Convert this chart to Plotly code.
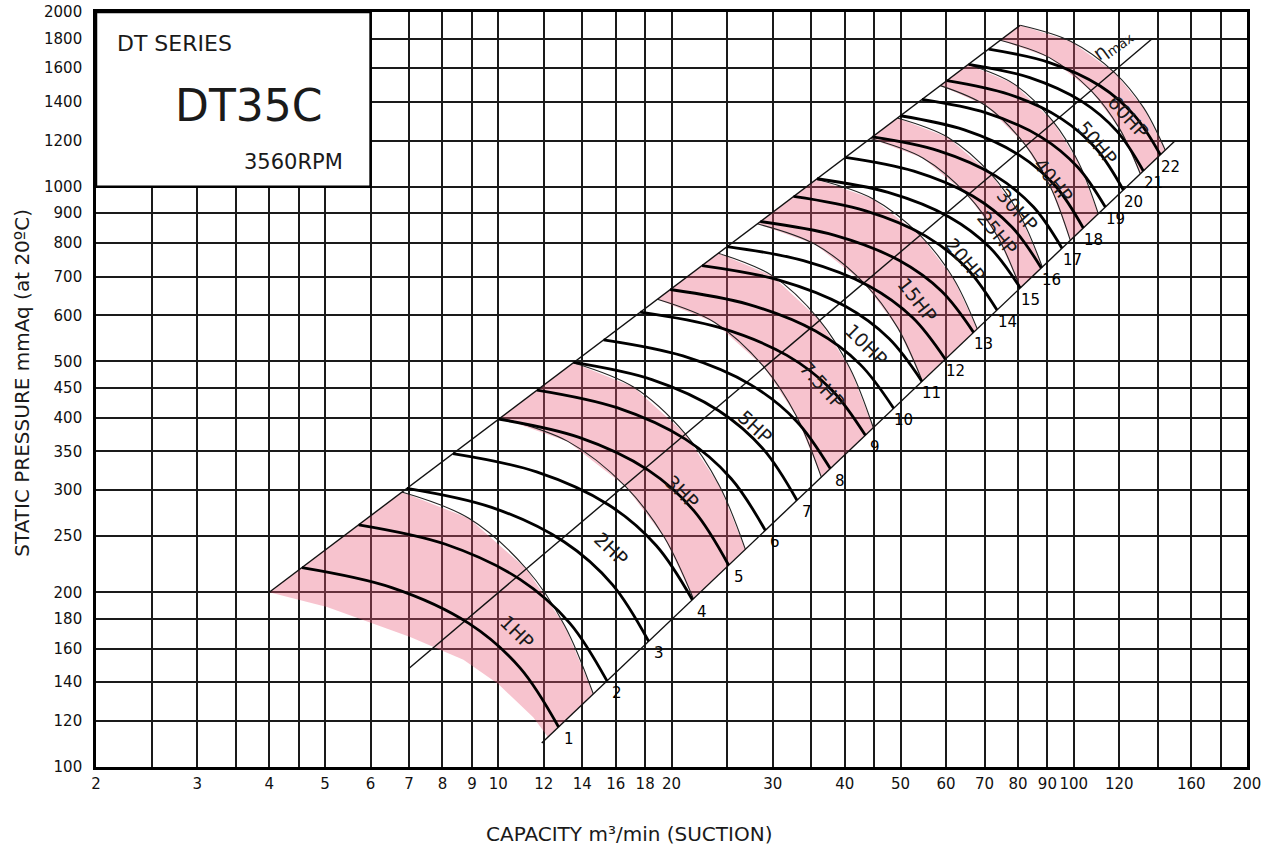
import numpy as np
import plotly.graph_objects as go

# ---------------- axes / grid ----------------
x_grid = [2, 2.5, 3, 3.5, 4, 4.5, 5, 6, 7, 8, 9, 10, 12, 14, 16, 18, 20, 25, 30, 35,
          40, 45, 50, 60, 70, 80, 90, 100, 120, 140, 160, 180, 200]
x_labels = ["2", "", "3", "", "4", "", "5", "6", "7", "8", "9", "10", "12", "14", "16",
            "18", "20", "", "30", "", "40", "", "50", "60", "70", "80", "90", "100",
            "120", "", "160", "", "200"]
y_grid = [100, 120, 140, 160, 180, 200, 250, 300, 350, 400, 450, 500, 600, 700, 800,
          900, 1000, 1200, 1400, 1600, 1800, 2000]
y_labels = [str(v) for v in y_grid]

# ---------------- fan curves 1..22 (capacity m3/min, static pressure mmAq) ----------------
curve_ids = list(range(1, 23))
curve_q = [
    [4.56, 6.53, 8.89, 10.91, 12.73],
    [5.72, 8.10, 10.91, 13.31, 15.45],
    [6.94, 9.74, 13.01, 15.79, 18.25],
    [8.34, 11.66, 15.54, 18.83, 21.74],
    [10.01, 13.82, 18.22, 21.90, 25.14],
    [11.68, 16.08, 21.14, 25.38, 29.11],
    [13.52, 18.49, 24.17, 28.90, 33.04],
    [15.24, 20.94, 27.48, 32.95, 37.75],
    [17.65, 24.19, 31.69, 37.94, 43.44],
    [19.90, 27.21, 35.58, 42.54, 48.64],
    [22.60, 30.75, 40.04, 47.75, 54.48],
    [24.98, 33.90, 44.06, 52.47, 59.82],
    [28.53, 38.46, 49.69, 58.94, 66.97],
    [32.59, 43.35, 55.34, 65.12, 73.56],
    [35.80, 47.59, 60.74, 71.48, 80.74],
    [40.09, 52.75, 66.73, 78.08, 87.82],
    [44.67, 58.26, 73.15, 85.14, 95.41],
    [49.97, 64.55, 80.41, 93.09, 103.88],
    [54.48, 70.45, 87.78, 101.63, 113.46],
    [60.23, 77.08, 95.25, 109.69, 121.94],
    [65.65, 83.86, 103.42, 118.94, 132.10],
    [71.13, 90.46, 111.16, 127.53, 141.40],
]
curve_p = [
    [220.6, 203.8, 176.8, 148.2, 117.2],
    [261.4, 242.0, 210.5, 177.0, 140.7],
    [302.2, 280.2, 244.4, 206.2, 164.7],
    [346.7, 322.5, 283.1, 240.6, 194.2],
    [397.7, 369.8, 324.7, 276.0, 222.7],
    [446.3, 416.1, 367.2, 314.2, 255.7],
    [497.8, 465.0, 411.1, 352.7, 288.2],
    [544.6, 510.9, 455.5, 394.8, 326.8],
    [608.1, 572.1, 512.5, 446.8, 372.9],
    [665.0, 627.0, 563.9, 494.1, 415.0],
    [731.3, 690.5, 622.7, 547.4, 461.8],
    [788.5, 745.6, 674.5, 595.0, 504.3],
    [870.9, 824.4, 746.6, 660.3, 561.0],
    [962.1, 909.5, 821.8, 724.3, 612.9],
    [1032.0, 977.7, 886.9, 785.7, 669.2],
    [1123.5, 1063.5, 963.5, 852.1, 724.4],
    [1218.3, 1152.9, 1043.8, 922.4, 783.3],
    [1325.1, 1253.1, 1133.6, 1000.7, 848.7],
    [1413.8, 1340.3, 1217.5, 1080.1, 922.3],
    [1523.4, 1443.0, 1309.1, 1159.1, 987.2],
    [1625.4, 1541.6, 1401.4, 1245.1, 1064.5],
    [1725.8, 1638.1, 1491.0, 1325.4, 1135.0],
]

# ---------------- horsepower limit lines (thin arcs) ----------------
hp_line_q = [
    [6.80, 8.89, 11.19, 13.04, 14.63],
    [10.08, 13.21, 16.65, 19.43, 21.83],
    [13.50, 17.18, 21.12, 24.24, 26.88],
    [18.90, 23.78, 28.95, 33.01, 36.42],
    [24.12, 29.97, 36.09, 40.86, 44.85],
    [28.19, 35.52, 43.30, 49.42, 54.55],
    [35.70, 44.73, 54.26, 61.73, 67.97],
    [44.32, 54.67, 65.44, 73.81, 80.74],
    [49.37, 60.48, 71.98, 80.82, 88.18],
    [58.63, 70.35, 82.23, 91.23, 98.63],
    [65.57, 78.68, 91.96, 102.04, 110.32],
    [74.53, 90.70, 107.27, 120.00, 130.50],
    [80.74, 98.92, 117.74, 132.22, 144.20],
]
hp_line_p = [
    [297.7, 268.3, 219.6, 175.4, 133.6],
    [399.7, 364.0, 304.2, 248.8, 194.9],
    [497.4, 451.6, 375.3, 305.0, 237.2],
    [639.7, 583.6, 489.2, 401.5, 315.9],
    [767.9, 701.9, 590.3, 486.3, 384.3],
    [863.1, 795.8, 680.8, 571.6, 462.4],
    [1029.9, 953.5, 822.1, 696.3, 568.9],
    [1210.7, 1121.0, 966.5, 818.8, 669.2],
    [1313.2, 1215.9, 1048.9, 889.0, 727.1],
    [1493.4, 1378.9, 1182.6, 995.8, 808.1],
    [1623.8, 1503.8, 1296.8, 1098.5, 898.3],
    [1787.5, 1668.9, 1462.0, 1260.2, 1052.4],
    [1897.5, 1779.6, 1572.7, 1368.5, 1156.5],
]
# shaded bands: pairs of hp-line indices
pink_bands = [(1, 2), (3, 4), (5, 6), (7, 8), (9, 10), (11, 12)]
# lower-left edge of the 1HP shading
shade1_q = [12.2, 11.5, 10.0, 8.7, 7.03, 5.04]
shade1_p = [112.6, 121.8, 139.0, 153.0, 167.5, 188.7]

# ---------------- straight limit lines ----------------
upper_q = [4, 80.74]
upper_p = [200, 1897.5]
lower_q = [11.9, 150]
lower_p = [110, 1200]
eta_q = [7, 137]
eta_p = [148, 1800]

# ---------------- labels ----------------
hp_text = ["1HP", "2HP", "3HP", "5HP", "7.5HP", "10HP", "15HP", "20HP", "25HP", "30HP",
           "40HP", "50HP", "60HP"]
hp_q = [10.79, 15.72, 20.88, 27.96, 36.56, 43.62, 53.47, 64.8, 73.6, 79.8, 92.1, 109.9, 124.4]
hp_p = [170.7, 237.2, 297.5, 384.9, 454.7, 533.0, 637.0, 746.8, 831.0, 910.5, 1025.0, 1188.0, 1317.0]
hp_angle = [45, 44, 45, 43, 48, 45, 52, 50, 50, 48, 52, 50, 48]
eta_label_q = 116.7
eta_label_p = 1759

title_box_q = [2, 6]
title_box_p = [1000, 2000]

PINK = "rgba(232,90,120,0.36)"
FONT = "DejaVu Sans"
TXT = "#1a1a1a"

fig = go.Figure()

# pink shading: 1HP region
q1 = [upper_q[0]] + hp_line_q[0] + shade1_q + [upper_q[0]]
p1 = [upper_p[0]] + hp_line_p[0] + shade1_p + [upper_p[0]]
fig.add_trace(go.Scatter(x=q1, y=p1, mode="lines", fill="toself", fillcolor=PINK,
                         line=dict(width=0, color=PINK), hoverinfo="skip", showlegend=False))
for a, b in pink_bands:
    qq = hp_line_q[a] + hp_line_q[b][::-1] + [hp_line_q[a][0]]
    pp = hp_line_p[a] + hp_line_p[b][::-1] + [hp_line_p[a][0]]
    fig.add_trace(go.Scatter(x=qq, y=pp, mode="lines", fill="toself", fillcolor=PINK,
                             line=dict(width=0, color=PINK), hoverinfo="skip", showlegend=False))

# title box (white, covers grid)
fig.add_trace(go.Scatter(
    x=[title_box_q[0], title_box_q[1], title_box_q[1], title_box_q[0], title_box_q[0]],
    y=[title_box_p[0], title_box_p[0], title_box_p[1], title_box_p[1], title_box_p[0]],
    mode="lines", fill="toself", fillcolor="white", line=dict(color="black", width=2.5),
    hoverinfo="skip", showlegend=False))

# thin hp lines
for q, p in zip(hp_line_q, hp_line_p):
    fig.add_trace(go.Scatter(x=q, y=p, mode="lines",
                             line=dict(color="#222", width=1.1, shape="spline", smoothing=1.0),
                             hoverinfo="skip", showlegend=False))

# straight lines
for q, p in [(upper_q, upper_p), (lower_q, lower_p), (eta_q, eta_p)]:
    fig.add_trace(go.Scatter(x=q, y=p, mode="lines", line=dict(color="#111", width=1.4),
                             hoverinfo="skip", showlegend=False))

# thick fan curves
for cid, q, p in zip(curve_ids, curve_q, curve_p):
    fig.add_trace(go.Scatter(x=q, y=p, mode="lines", name=str(cid),
                             line=dict(color="black", width=2.8, shape="spline", smoothing=1.0),
                             hoverinfo="skip", showlegend=False))

ann = []
# curve numbers
for cid, q, p in zip(curve_ids, curve_q, curve_p):
    ann.append(dict(x=np.log10(q[-1]), y=np.log10(p[-1]), xref="x", yref="y", text=str(cid),
                    showarrow=False, xshift=10, yshift=-12,
                    font=dict(family=FONT, size=15, color="#000")))
# HP labels
for t, q, p, ang in zip(hp_text, hp_q, hp_p, hp_angle):
    ann.append(dict(x=np.log10(q), y=np.log10(p), xref="x", yref="y", text=t,
                    showarrow=False, textangle=ang,
                    font=dict(family=FONT, size=19, color=TXT)))
# eta max
ann.append(dict(x=np.log10(eta_label_q), y=np.log10(eta_label_p), xref="x", yref="y",
                text="η<sub>max</sub>", showarrow=False, textangle=-36,
                font=dict(family=FONT, size=19, color=TXT)))
# title box texts
ann.append(dict(x=0.0168, y=0.9585, xref="paper", yref="paper", text="DT SERIES",
                xanchor="left", yanchor="middle", showarrow=False,
                font=dict(family=FONT, size=22, color=TXT)))
ann.append(dict(x=0.1323, y=0.8764, xref="paper", yref="paper", text="DT35C",
                xanchor="center", yanchor="middle", showarrow=False,
                font=dict(family=FONT, size=44, color=TXT)))
ann.append(dict(x=0.2165, y=0.8009, xref="paper", yref="paper", text="3560RPM",
                xanchor="right", yanchor="middle", showarrow=False,
                font=dict(family=FONT, size=21, color=TXT)))
# axis titles
ann.append(dict(x=0.4629, y=-0.0891, xref="paper", yref="paper",
                text="CAPACITY m³/min (SUCTION)", showarrow=False,
                xanchor="center", yanchor="middle",
                font=dict(family=FONT, size=20, color=TXT)))
ann.append(dict(x=-0.064, y=0.5095, xref="paper", yref="paper",
                text="STATIC PRESSURE mmAq (at 20ºC)", showarrow=False, textangle=-90,
                xanchor="center", yanchor="middle",
                font=dict(family=FONT, size=20, color=TXT)))

axis_common = dict(type="log", showgrid=True, gridcolor="#1a1a1a", gridwidth=1.5,
                   showline=True, linecolor="black", linewidth=2.6, mirror=True,
                   ticks="", zeroline=False, automargin=False,
                   tickfont=dict(family=FONT, size=15, color="#111"))

fig.update_layout(
    width=1277, height=850, autosize=False,
    margin=dict(l=96, r=30, t=12, b=83, pad=0),
    paper_bgcolor="white", plot_bgcolor="white",
    xaxis=dict(range=[np.log10(2), np.log10(200)], tickvals=x_grid, ticktext=x_labels,
               ticklabelstandoff=1, **axis_common),
    yaxis=dict(range=[np.log10(100), np.log10(2000)], tickvals=y_grid, ticktext=y_labels,
               ticklabelstandoff=8, **axis_common),
    annotations=ann,
    showlegend=False,
)

fig.write_html("out.html", config={"displayModeBar": False},
               post_script="document.body.style.margin='0';document.body.style.overflow='hidden';")
